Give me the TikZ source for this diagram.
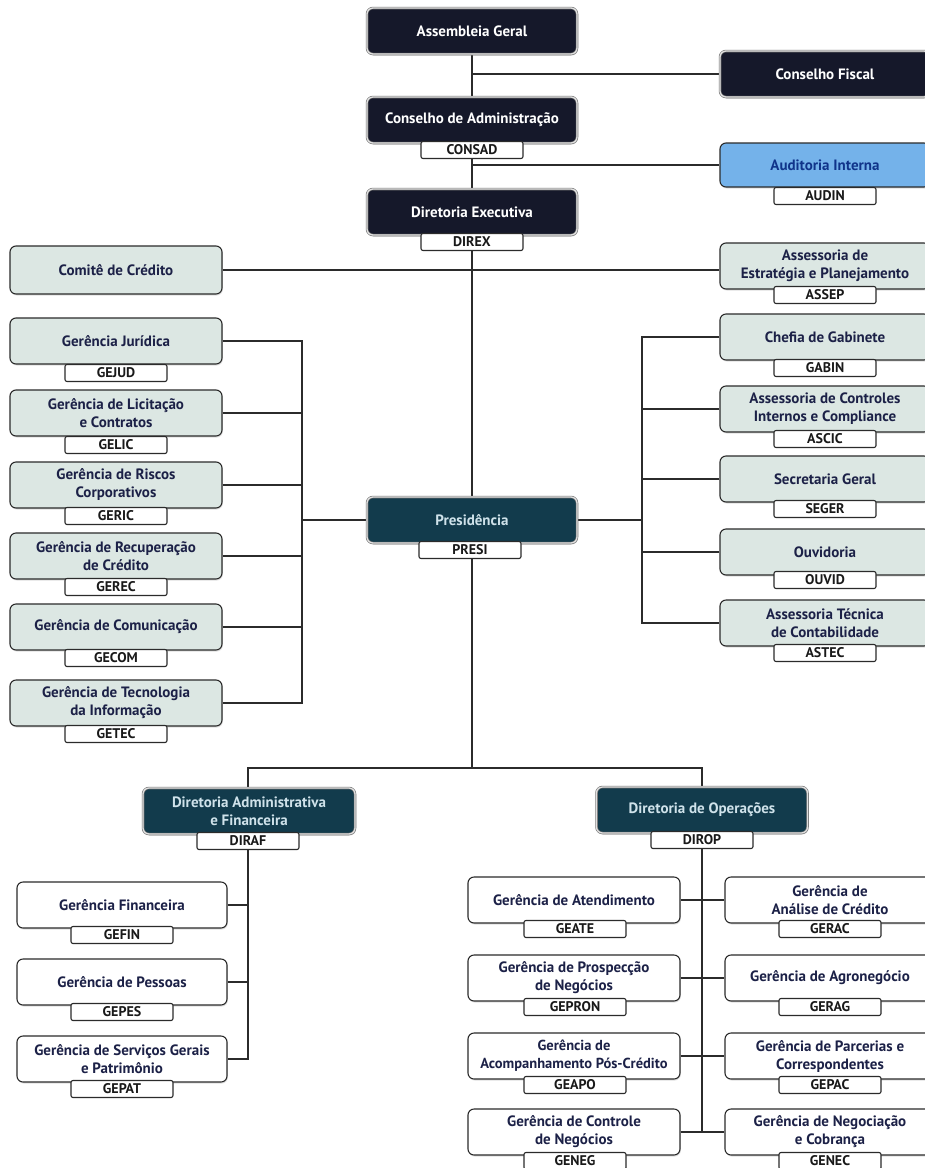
\documentclass[tikz,border=0pt]{standalone}
\usepackage{fontspec}
\setmainfont{PT Sans}
\usetikzlibrary{backgrounds,shadows}
\pgfdeclarelayer{paper}
\pgfsetlayers{paper,background,main}
\definecolor{navy}{HTML}{15182A}
\definecolor{tealb}{HTML}{123B4C}
\definecolor{tealtxt}{HTML}{CFE2EA}
\definecolor{pale}{HTML}{DCE7E3}
\definecolor{ink}{HTML}{1C2147}
\definecolor{skyb}{HTML}{74B2EA}
\definecolor{auditink}{HTML}{10348A}
\definecolor{linec}{HTML}{2B2B2B}
\tikzset{
  box/.style={rounded corners=6pt, minimum width=210pt, minimum height=46pt, align=center,
    font=\fontsize{15}{18}\selectfont\bfseries, inner sep=2pt,
    drop shadow={shadow xshift=0.8pt, shadow yshift=-1.5pt, opacity=0.25}},
  darkb/.style={box, fill=navy, draw=black!55, double=black!12, double distance=1.3pt, line width=0.6pt, text=white},
  tealbx/.style={box, fill=tealb, draw=black!55, double=black!12, double distance=1.3pt, line width=0.6pt, text=tealtxt},
  paleb/.style={box, fill=pale, draw=linec, line width=1.1pt, text=ink},
  whiteb/.style={box, fill=white, draw=linec, line width=1.1pt, text=ink},
  audb/.style={box, fill=skyb, draw=linec, line width=1.1pt, text=auditink},
  tagb/.style={fill=white, draw=linec, line width=1.1pt, rounded corners=2pt, minimum width=102pt,
    minimum height=17pt, inner sep=0pt, font=\fontsize{14}{14}\selectfont\bfseries, text=black!90},
  conn/.style={draw=linec, line width=1.2pt}
}
\begin{document}
\begin{tikzpicture}[x=1pt,y=-1pt]
\useasboundingbox (0,0) rectangle (925,1168);
\begin{pgfonlayer}{paper}
\fill[white] (0,0) rectangle (925,1168);
\end{pgfonlayer}
% center column
\node[darkb] (ag) at (472,31) {Assembleia Geral};
\node[darkb] (ca) at (472,120) {Conselho de Administração};
\node[tagb] (consad) at (472,150) {CONSAD};
\node[darkb] (de) at (472,212) {Diretoria Executiva};
\node[tagb] (direx) at (472,242) {DIREX};
\node[tealbx] (pr) at (472,520) {Presidência};
\node[tagb] (presi) at (470,550) {PRESI};
% right column
\node[darkb] (cf) at (825,74) {Conselho Fiscal};
\node[audb, minimum height=44pt] (ai) at (825,165) {Auditoria Interna};
\node[tagb] (audin) at (825,196) {AUDIN};
\node[paleb] (ae) at (825,266) {Assessoria de\\Estratégia e Planejamento};
\node[tagb] (assep) at (825,295) {ASSEP};
\node[paleb] (cg) at (825,337) {Chefia de Gabinete};
\node[tagb] (gabin) at (825,368) {GABIN};
\node[paleb] (ac) at (825,409) {Assessoria de Controles\\Internos e Compliance};
\node[tagb] (ascic) at (825,439) {ASCIC};
\node[paleb] (sg) at (825,479) {Secretaria Geral};
\node[tagb] (seger) at (825,509) {SEGER};
\node[paleb] (ou) at (825,552) {Ouvidoria};
\node[tagb] (ouvid) at (825,580) {OUVID};
\node[paleb] (at) at (825,623) {Assessoria Técnica\\de Contabilidade};
\node[tagb] (astec) at (825,653) {ASTEC};
% left column
\node[paleb, minimum width=212pt, minimum height=48pt] (cc) at (116,270) {Comitê de Crédito};
\node[paleb, minimum width=212pt] (gj) at (116,341) {Gerência Jurídica};
\node[tagb] (gejud) at (116,373) {GEJUD};
\node[paleb, minimum width=212pt] (gl) at (116,413) {Gerência de Licitação\\e Contratos};
\node[tagb] (gelic) at (116,445) {GELIC};
\node[paleb, minimum width=212pt] (gr) at (116,485) {Gerência de Riscos\\Corporativos};
\node[tagb] (geric) at (116,516) {GERIC};
\node[paleb, minimum width=212pt] (grc) at (116,556) {Gerência de Recuperação\\de Crédito};
\node[tagb] (gerec) at (116,587) {GEREC};
\node[paleb, minimum width=212pt] (gcm) at (116,627) {Gerência de Comunicação};
\node[tagb] (gecom) at (116,658) {GECOM};
\node[paleb, minimum width=212pt] (gt) at (116,703) {Gerência de Tecnologia\\da Informação};
\node[tagb] (getec) at (116,734) {GETEC};
% directorates
\node[tealbx, minimum width=212pt] (da) at (249,811) {Diretoria Administrativa\\e Financeira};
\node[tagb] (diraf) at (248,841) {DIRAF};
\node[tealbx, minimum width=211pt] (do) at (702,810) {Diretoria de Operações};
\node[tagb] (dirop) at (702,840) {DIROP};
% bottom left
\node[whiteb] (gf) at (122,905) {Gerência Financeira};
\node[tagb] (gefin) at (122,935) {GEFIN};
\node[whiteb] (gp) at (122,982) {Gerência de Pessoas};
\node[tagb] (gepes) at (122,1012) {GEPES};
\node[whiteb] (gs) at (122,1059) {Gerência de Serviços Gerais\\e Patrimônio};
\node[tagb] (gepat) at (122,1089) {GEPAT};
% bottom middle
\node[whiteb, minimum width=212pt] (ga) at (574,900) {Gerência de Atendimento};
\node[tagb] (geate) at (575,929) {GEATE};
\node[whiteb, minimum width=212pt] (gpr) at (574,978) {Gerência de Prospecção\\de Negócios};
\node[tagb] (gepron) at (575,1007) {GEPRON};
\node[whiteb, minimum width=212pt, font=\fontsize{14.5}{18}\selectfont\bfseries] (gap) at (574,1056) {Gerência de\\Acompanhamento Pós-Crédito};
\node[tagb] (geapo) at (575,1085) {GEAPO};
\node[whiteb, minimum width=212pt] (gcn) at (574,1132) {Gerência de Controle\\de Negócios};
\node[tagb] (geneg) at (575,1161) {GENEG};
% bottom right
\node[whiteb] (gan) at (830,900) {Gerência de\\Análise de Crédito};
\node[tagb] (gerac) at (830,929) {GERAC};
\node[whiteb] (gag) at (830,978) {Gerência de Agronegócio};
\node[tagb] (gerag) at (830,1007) {GERAG};
\node[whiteb] (gpc) at (830,1056) {Gerência de Parcerias e\\Correspondentes};
\node[tagb] (gepac) at (830,1085) {GEPAC};
\node[whiteb] (gnc) at (830,1132) {Gerência de Negociação\\e Cobrança};
\node[tagb] (genec) at (830,1161) {GENEC};
% helper coordinates
\coordinate (lb) at (302,0);
\coordinate (rb) at (642,0);
\coordinate (j) at (472,768);
\begin{pgfonlayer}{background}
\draw[conn] (ag.south) -- (ca.north);
\draw[conn] (consad.south) -- (de.north);
\draw[conn] (direx.south) -- (j);
\draw[conn] (cf.west) -- (cf.west -| ag.south);
\draw[conn] (ai.west) -- (ai.west -| ag.south);
\draw[conn] (cc.east) -- (cc.east -| ae.west);
% left bracket
\draw[conn] (gj.east) -| (lb |- gt.east) -- (gt.east);
\foreach \n in {gl,gr,grc,gcm} \draw[conn] (\n.east) -- (\n.east -| lb);
\draw[conn] (pr.west) -- (pr.west -| lb);
% right bracket
\draw[conn] (cg.west) -| (rb |- at.west) -- (at.west);
\foreach \n in {ac,sg,ou} \draw[conn] (\n.west) -- (\n.west -| rb);
\draw[conn] (pr.east) -- (pr.east -| rb);
% lower split
\draw[conn] (diraf.north) |- (j) -| (do.north);
\draw[conn] (diraf.south) |- (gs.east);
\draw[conn] (gf.east) -- (gf.east -| diraf.south);
\draw[conn] (gp.east) -- (gp.east -| diraf.south);
\draw[conn] (dirop.south) -- (dirop.south |- gcn.east);
\draw[conn] (ga.east) -- (gan.west);
\draw[conn] (gpr.east) -- (gag.west);
\draw[conn] (gap.east) -- (gpc.west);
\draw[conn] (gcn.east) -- (gnc.west);
\end{pgfonlayer}
\end{tikzpicture}
\end{document}
